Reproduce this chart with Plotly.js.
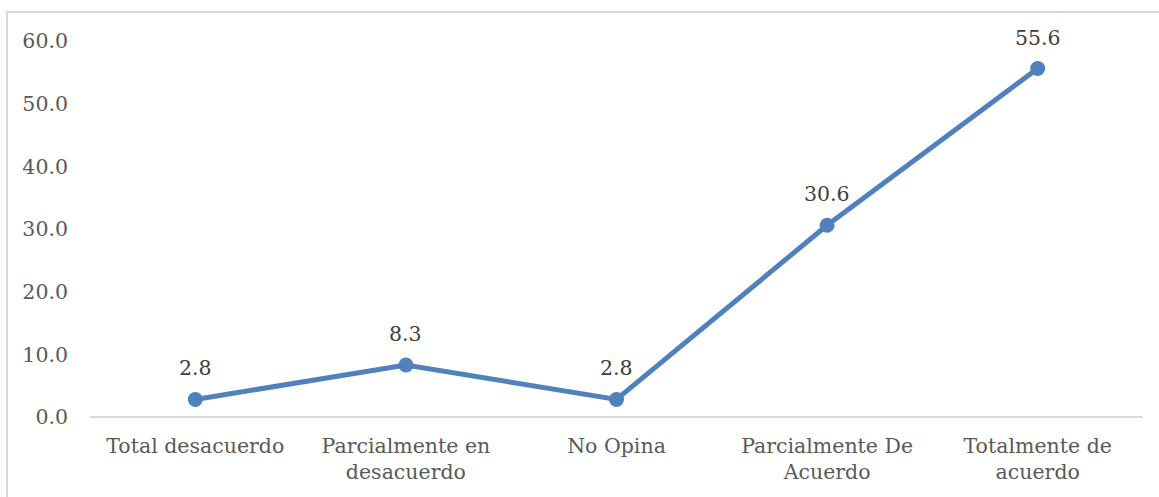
<!DOCTYPE html>
<html>
<head>
<meta charset="utf-8">
<script src="https://cdn.plot.ly/plotly-3.0.1.min.js"></script>
<style>
html,body{margin:0;padding:0;background:#fff;overflow:hidden;}
#frame{position:absolute;left:6px;top:11px;width:1200px;height:600px;border-left:2px solid #d9d9d9;border-top:2px solid #d9d9d9;box-sizing:border-box;}
#chart{position:absolute;left:0;top:0;width:1159px;height:497px;}
</style>
</head>
<body>
<div id="frame"></div>
<div id="chart"></div>
<script>
var categories = ["Total desacuerdo", "Parcialmente en<br>desacuerdo", "No Opina", "Parcialmente De<br>Acuerdo", "Totalmente de<br>acuerdo"];
var values = [2.8, 8.3, 2.8, 30.6, 55.6];
var yTicks = [0, 10, 20, 30, 40, 50, 60];
var yTickLabels = ["0.0", "10.0", "20.0", "30.0", "40.0", "50.0", "60.0"];

var xIdx = categories.map(function(c, i){ return i; });

var trace = {
  type: "scatter",
  mode: "lines+markers",
  x: xIdx,
  y: values,
  line: {color: "#4f81bd", width: 5},
  marker: {color: "#4f81bd", size: 15},
  cliponaxis: false,
  hoverinfo: "skip"
};

var annotations = values.map(function(v, i){
  return {
    x: xIdx[i], y: v, xref: "x", yref: "y",
    text: v.toFixed(1), showarrow: false,
    yshift: 31,
    font: {family: "DejaVu Serif", size: 20.5, color: "#404040"}
  };
});

var layout = {
  width: 1159,
  height: 497,
  margin: {l: 90, r: 16, t: 41, b: 80},
  paper_bgcolor: "rgba(0,0,0,0)",
  plot_bgcolor: "rgba(0,0,0,0)",
  showlegend: false,
  font: {family: "DejaVu Serif", size: 20.5, color: "#595959"},
  annotations: annotations,
  xaxis: {
    range: [-0.5, 4.5],
    tickvals: xIdx,
    ticktext: categories,
    showgrid: false,
    zeroline: false,
    showline: false,
    ticks: "",
    ticklabelstandoff: 14,
    tickfont: {family: "DejaVu Serif", size: 20.5, color: "#595959"},
    fixedrange: true
  },
  yaxis: {
    range: [0, 60],
    tickvals: yTicks,
    ticktext: yTickLabels,
    showgrid: false,
    zeroline: true,
    zerolinecolor: "#d9d9d9",
    zerolinewidth: 2,
    showline: false,
    ticks: "",
    ticklabelstandoff: 21,
    tickfont: {family: "DejaVu Serif", size: 20.5, color: "#595959"},
    fixedrange: true
  }
};

Plotly.newPlot("chart", [trace], layout, {displayModeBar: false, staticPlot: true});
</script>
</body>
</html>
